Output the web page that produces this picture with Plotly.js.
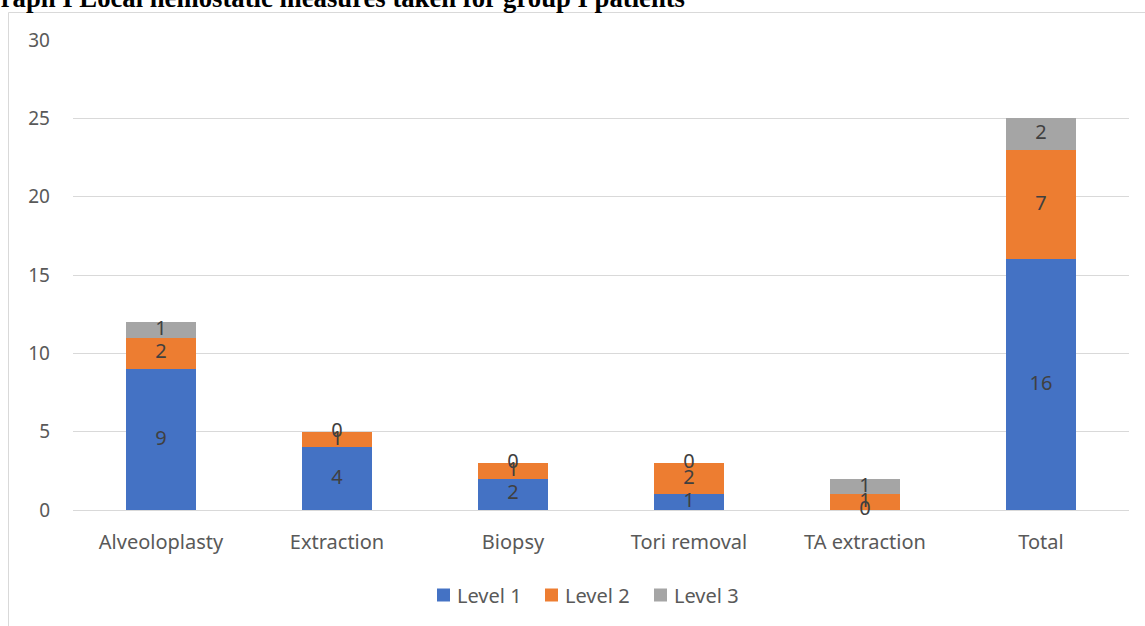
<!DOCTYPE html>
<html>
<head>
<meta charset="utf-8">
<script src="https://cdn.plot.ly/plotly-3.0.1.min.js"></script>
<style>html,body{margin:0;padding:0;background:#fff;}#chart{width:1145px;height:626px;}</style>
</head>
<body>
<div id="chart"></div>
<script>
const categories = ["Alveoloplasty", "Extraction", "Biopsy", "Tori removal", "TA extraction", "Total"];
const level1 = [9, 4, 2, 1, 0, 16];
const level2 = [2, 1, 1, 2, 1, 7];
const level3 = [1, 0, 0, 0, 1, 2];
const seriesNames = ["Level 1", "Level 2", "Level 3"];
const seriesColors = ["#4472C4", "#ED7D31", "#A5A5A5"];
const titleText = "Graph I Local hemostatic measures taken for group I patients";

const font = "Noto Sans, Open Sans, sans-serif";
const series = [level1, level2, level3];
const traces = [];
series.forEach((vals, i) => {
  traces.push({
    type: "bar", x: categories, y: vals, name: seriesNames[i],
    marker: {color: seriesColors[i], line: {width: 0}},
    hoverinfo: "none", showlegend: false
  });
});
// data labels centered in each segment
const base = categories.map(() => 0);
series.forEach((vals, i) => {
  const ys = vals.map((v, j) => base[j] + v / 2);
  vals.forEach((v, j) => base[j] += v);
  traces.push({
    type: "scatter", mode: "text", x: categories, y: ys,
    text: vals.map(String), textposition: "middle center",
    textfont: {family: font, size: 20, color: "#404040"},
    showlegend: false, hoverinfo: "none", cliponaxis: false
  });
});

const L = 73, R = 16, T = 40, B = 116;
const pw = 1145 - L - R, ph = 626 - T - B;
const px = v => (v - L) / pw;
const py = v => (510 - v) / ph;

// custom legend (Excel style: small square, text close to it)
const legendX = [437, 545, 654];
const legendY = 595;
const shapes = [{
  type: "rect", xref: "paper", yref: "paper",
  x0: px(8.5), x1: px(1200), y0: py(700), y1: py(12.5),
  line: {color: "#D9D9D9", width: 1}, fillcolor: "rgba(0,0,0,0)", layer: "below"
}];
const annotations = [{
  xref: "paper", yref: "paper", x: px(-21), y: py(14), xanchor: "left", yanchor: "bottom",
  text: "<b>" + titleText + "</b>", showarrow: false, borderpad: 0,
  font: {family: "Liberation Serif, Times New Roman, serif", size: 26.7, color: "#000"}
}];
seriesNames.forEach((n, i) => {
  shapes.push({
    type: "rect", xref: "paper", yref: "paper",
    x0: px(legendX[i]), x1: px(legendX[i] + 13), y0: py(legendY + 6.5), y1: py(legendY - 6.5),
    fillcolor: seriesColors[i], line: {width: 0}
  });
  annotations.push({
    xref: "paper", yref: "paper", x: px(legendX[i] + 18), y: py(legendY),
    xanchor: "left", yanchor: "middle", showarrow: false, text: n,
    font: {family: font, size: 20, color: "#595959"}
  });
});

const layout = {
  width: 1145, height: 626,
  margin: {l: L, r: R, t: T, b: B, pad: 0},
  paper_bgcolor: "#fff", plot_bgcolor: "#fff",
  barmode: "stack", bargap: 0.6,
  font: {family: font, size: 19, color: "#595959"},
  showlegend: false,
  xaxis: {type: "category", showgrid: false, zeroline: false, showline: false, ticks: "",
          ticklabelstandoff: 18,
          tickfont: {family: font, size: 20, color: "#595959"}, fixedrange: true},
  yaxis: {range: [0, 30], dtick: 5, showgrid: true, gridcolor: "#D9D9D9", gridwidth: 1,
          zeroline: true, zerolinecolor: "#D9D9D9", zerolinewidth: 1, showline: false, ticks: "",
          ticklabelstandoff: 22,
          tickfont: {family: font, size: 19, color: "#595959"}, fixedrange: true},
  annotations: annotations,
  shapes: shapes
};
Plotly.newPlot("chart", traces, layout, {displayModeBar: false, staticPlot: true});
</script>
</body>
</html>
